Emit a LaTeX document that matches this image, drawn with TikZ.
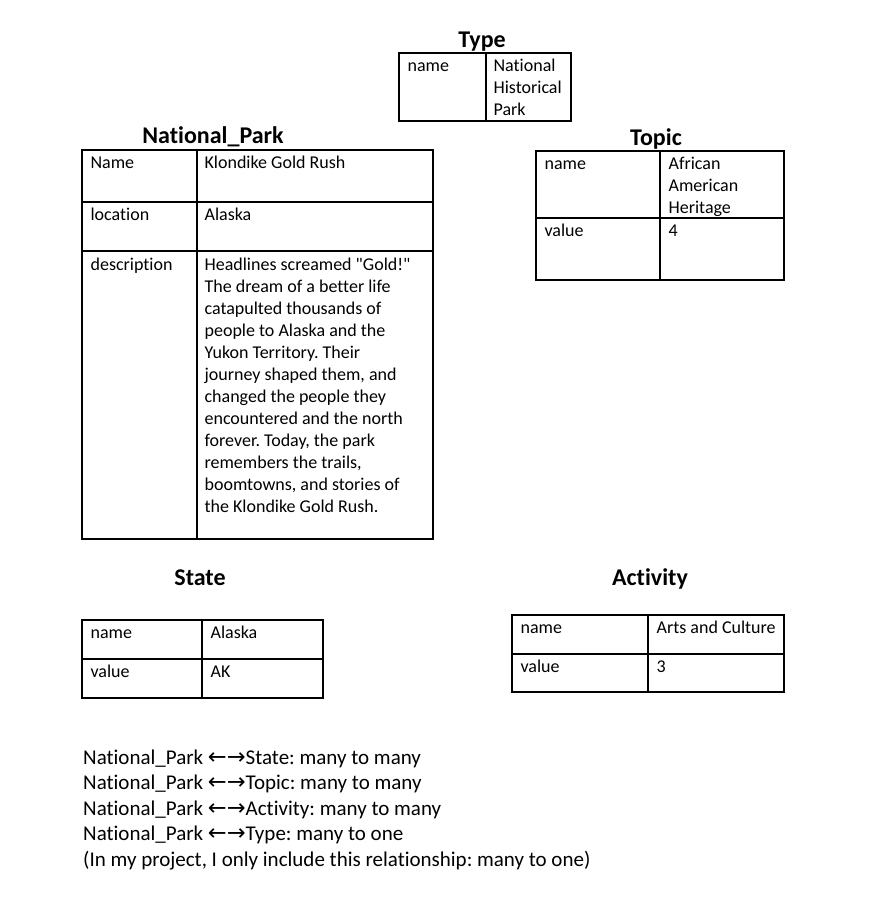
\documentclass[tikz,border=0pt]{standalone}
\usepackage{fontspec}
\setmainfont{Carlito}[Ligatures={TeXOff,NoCommon}]
\newfontfamily\arrowfont{DejaVu Sans}
\usetikzlibrary{positioning}

\tikzset{
  cellbox/.style={draw, line width=1.2pt, rectangle, inner sep=0pt},
  celltext/.style={inner sep=0pt, align=left, font=\fontsize{18pt}{22pt}\selectfont},
  tabletitle/.style={inner sep=0pt, anchor=base, font=\fontsize{24pt}{29pt}\selectfont\bfseries},
  notetext/.style={inner sep=0pt, align=left, anchor=north west, font=\fontsize{21pt}{25.5pt}\selectfont},
}
\newcommand{\cellstrut}{\rule{0pt}{14pt}}
\newcommand{\notestrut}{\rule{0pt}{16pt}}
\newcommand{\bothways}{{\arrowfont\fontsize{22.5pt}{25.5pt}\selectfont ←→}}
\frenchspacing

\begin{document}
\begin{tikzpicture}[x=1pt, y=-1pt]%
\useasboundingbox (0,0) rectangle (888,906);%
% Type
\node[tabletitle] (typeTitle) at (482,47) {Type};%
\node[cellbox, minimum width=87pt, minimum height=68pt] (typeName) at (442.5,87) {};%
\node[cellbox, minimum width=85pt, minimum height=68pt] (typeValue) at (528.5,87) {};%
\node[celltext, below right=5pt and 9pt of typeName.north west] (typeNameText) {\cellstrut name};%
\node[celltext, below right=5pt and 8pt of typeValue.north west] (typeValueText) {\cellstrut National\\Historical\\Park};%
% National_Park
\node[tabletitle] (parkTitle) at (213,143) {National\_Park};%
\node[cellbox, minimum width=115pt, minimum height=52pt] (parkNameKey) at (139.5,176) {};%
\node[cellbox, minimum width=236pt, minimum height=52pt] (parkNameVal) at (315,176) {};%
\node[cellbox, minimum width=115pt, minimum height=49pt] (parkLocKey) at (139.5,226.5) {};%
\node[cellbox, minimum width=236pt, minimum height=49pt] (parkLocVal) at (315,226.5) {};%
\node[cellbox, minimum width=115pt, minimum height=288pt] (parkDescKey) at (139.5,395) {};%
\node[cellbox, minimum width=236pt, minimum height=288pt] (parkDescVal) at (315,395) {};%
\node[celltext, below right=5pt and 9pt of parkNameKey.north west] (parkNameKeyText) {\cellstrut Name};%
\node[celltext, below right=5pt and 8pt of parkNameVal.north west] (parkNameValText) {\cellstrut Klondike Gold Rush};%
\node[celltext, below right=5pt and 9pt of parkLocKey.north west] (parkLocKeyText) {\cellstrut location};%
\node[celltext, below right=5pt and 8pt of parkLocVal.north west] (parkLocValText) {\cellstrut Alaska};%
\node[celltext, below right=6pt and 9pt of parkDescKey.north west] (parkDescKeyText) {\cellstrut description};%
\node[celltext, below right=6pt and 8pt of parkDescVal.north west] (parkDescValText) {\cellstrut Headlines screamed "Gold!"\\The dream of a better life\\catapulted thousands of\\people to Alaska and the\\Yukon Territory. Their\\journey shaped them, and\\changed the people they\\encountered and the north\\forever. Today, the park\\remembers the trails,\\boomtowns, and stories of\\the Klondike Gold Rush.};%
% Topic
\node[tabletitle] (topicTitle) at (656,145) {Topic};%
\node[cellbox, minimum width=124pt, minimum height=67pt] (topicNameKey) at (598,184.5) {};%
\node[cellbox, minimum width=124pt, minimum height=67pt] (topicNameVal) at (722,184.5) {};%
\node[cellbox, minimum width=124pt, minimum height=62pt] (topicValKey) at (598,249) {};%
\node[cellbox, minimum width=124pt, minimum height=62pt] (topicValVal) at (722,249) {};%
\node[celltext, below right=5pt and 9pt of topicNameKey.north west] (topicNameKeyText) {\cellstrut name};%
\node[celltext, below right=5pt and 9pt of topicNameVal.north west] (topicNameValText) {\cellstrut African\\American\\Heritage};%
\node[celltext, below right=5pt and 9pt of topicValKey.north west] (topicValKeyText) {\cellstrut value};%
\node[celltext, below right=5pt and 9pt of topicValVal.north west] (topicValValText) {\cellstrut 4};%
% State
\node[tabletitle] (stateTitle) at (200,585) {State};%
\node[cellbox, minimum width=120pt, minimum height=39pt] (stateNameKey) at (142,639.5) {};%
\node[cellbox, minimum width=121pt, minimum height=39pt] (stateNameVal) at (262.5,639.5) {};%
\node[cellbox, minimum width=120pt, minimum height=39pt] (stateValKey) at (142,678.5) {};%
\node[cellbox, minimum width=121pt, minimum height=39pt] (stateValVal) at (262.5,678.5) {};%
\node[celltext, below right=5pt and 9pt of stateNameKey.north west] (stateNameKeyText) {\cellstrut name};%
\node[celltext, below right=5pt and 9pt of stateNameVal.north west] (stateNameValText) {\cellstrut Alaska};%
\node[celltext, below right=5pt and 9pt of stateValKey.north west] (stateValKeyText) {\cellstrut value};%
\node[celltext, below right=5pt and 9pt of stateValVal.north west] (stateValValText) {\cellstrut AK};%
% Activity
\node[tabletitle] (activityTitle) at (650,585) {Activity};%
\node[cellbox, minimum width=136pt, minimum height=39pt] (activityNameKey) at (580,634.5) {};%
\node[cellbox, minimum width=136pt, minimum height=39pt] (activityNameVal) at (716,634.5) {};%
\node[cellbox, minimum width=136pt, minimum height=38pt] (activityValKey) at (580,673) {};%
\node[cellbox, minimum width=136pt, minimum height=38pt] (activityValVal) at (716,673) {};%
\node[celltext, below right=5pt and 9pt of activityNameKey.north west] (activityNameKeyText) {\cellstrut name};%
\node[celltext, below right=5pt and 9pt of activityNameVal.north west] (activityNameValText) {\cellstrut Arts and Culture};%
\node[celltext, below right=5pt and 9pt of activityValKey.north west] (activityValKeyText) {\cellstrut value};%
\node[celltext, below right=5pt and 9pt of activityValVal.north west] (activityValValText) {\cellstrut 3};%
% relationships
\node[notetext] (relations) at (83,748) {\notestrut National\_Park \bothways State: many to many\\National\_Park \bothways Topic: many to many\\National\_Park \bothways Activity: many to many\\National\_Park \bothways Type: many to one\\(In my project, I only include this relationship: many to one)};%
\end{tikzpicture}
\end{document}
